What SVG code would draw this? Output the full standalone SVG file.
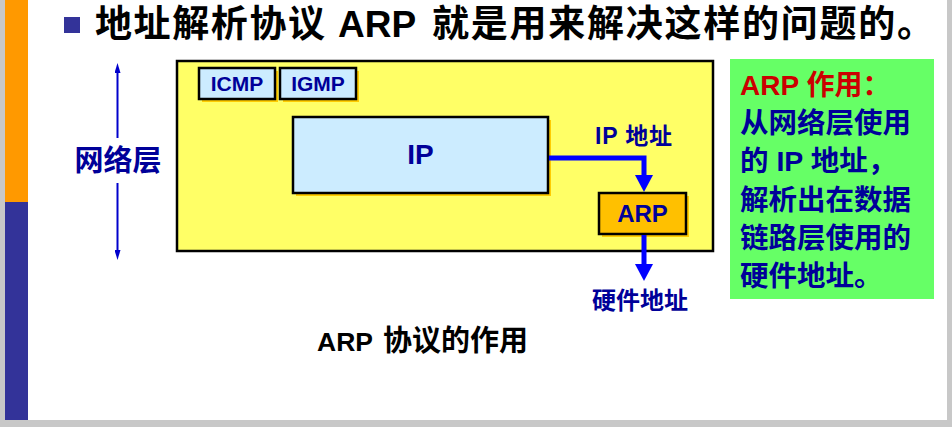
<svg xmlns="http://www.w3.org/2000/svg" width="952" height="427" viewBox="0 0 952 427">
<defs>
<style>
.t{font-family:"Liberation Sans","Noto Sans CJK SC",sans-serif;font-weight:bold}
.navy{fill:#000099}
.box{stroke:#000;stroke-width:2.5}
.sh{fill:#FFCC00}
.conn{stroke:#0000FF;stroke-width:5;fill:none}
.dbl{stroke:#0000CC;stroke-width:2;fill:none}
</style>
<marker id="ah" markerUnits="userSpaceOnUse" markerWidth="17" markerHeight="18" refX="0" refY="9" orient="auto" viewBox="0 0 17 18">
<path d="M0,0 L17,9 L0,18 z" fill="#0000FF"/>
</marker>
<marker id="ahs" markerUnits="userSpaceOnUse" markerWidth="10" markerHeight="6" refX="0" refY="3" orient="auto" viewBox="0 0 10 6">
<path d="M0,0 L10,3 L0,6 z" fill="#0000CC"/>
</marker>
</defs>
<rect x="0" y="0" width="952" height="427" fill="#FFFFFF"/>
<rect x="0" y="0" width="5" height="427" fill="#C8C8C8"/>
<rect x="5" y="0" width="23" height="202" fill="#FF9900"/>
<rect x="5" y="202" width="23" height="218" fill="#333399"/>
<rect x="0" y="420" width="952" height="7" fill="#C8C8C8"/>
<rect x="947" y="0" width="5" height="427" fill="#C8C8C8"/>

<g id="title">
<rect x="64" y="17" width="16" height="16" fill="#333399"/>
<text class="t" font-size="37" y="37" fill="#000"><tspan x="95" textLength="230">地址解析协议</tspan><tspan x="338">ARP</tspan><tspan x="432" textLength="502">就是用来解决这样的问题的。</tspan></text>
</g>

<g id="network-layer-label">
<text class="t navy" font-size="29" x="118" y="171" text-anchor="middle">网络层</text>
</g>

<g id="network-layer-box">
<rect x="177" y="61" width="536" height="190" fill="#FFFF66" class="box"/>
</g>

<g id="icmp">
<rect x="202" y="71" width="76" height="31" class="sh"/>
<rect x="199" y="68" width="76" height="31" fill="#CCECFF" class="box"/>
<text class="t navy" font-size="21" x="237" y="91" text-anchor="middle">ICMP</text>
</g>

<g id="igmp">
<rect x="283" y="71" width="76" height="31" class="sh"/>
<rect x="280" y="68" width="76" height="31" fill="#CCECFF" class="box"/>
<text class="t navy" font-size="21" x="318" y="91" text-anchor="middle">IGMP</text>
</g>

<g id="ip">
<rect x="296" y="120" width="255" height="76" class="sh"/>
<rect x="293" y="117" width="255" height="76" fill="#CCECFF" class="box"/>
<text class="t navy" font-size="28" x="420.5" y="164" text-anchor="middle">IP</text>
</g>

<g id="arp">
<rect x="602" y="196" width="87" height="41" class="sh"/>
<rect x="599" y="193" width="87" height="41" fill="#FFC000" class="box"/>
<text class="t navy" font-size="24" x="642.5" y="221.5" text-anchor="middle">ARP</text>
</g>

<g id="connectors">
<path class="conn" d="M549,158 H644 V175" marker-end="url(#ah)"/>
<path class="conn" d="M644,235 V264" marker-end="url(#ah)"/>
<path class="dbl" d="M117.5,138 V73" marker-end="url(#ahs)"/>
<path class="dbl" d="M117.5,183 V250" marker-end="url(#ahs)"/>
</g>

<g id="labels">
<text class="t navy" font-size="23" x="595" y="144" textLength="77">IP 地址</text>
<text class="t navy" font-size="24" x="592" y="309">硬件地址</text>
<text class="t" y="351" fill="#000"><tspan x="317" font-size="26.5">ARP</tspan><tspan x="383" font-size="29">协议的作用</tspan></text>
</g>

<g id="note">
<rect x="730" y="59" width="204" height="240" fill="#66FF66"/>
<text class="t" font-size="28" x="740" y="95" fill="#CC0000">ARP 作用：</text>
<text class="t navy" font-size="28.5">
<tspan x="740" y="133">从网络层使用</tspan>
<tspan x="740" y="171">的 IP 地址，</tspan>
<tspan x="740" y="210">解析出在数据</tspan>
<tspan x="740" y="248">链路层使用的</tspan>
<tspan x="740" y="286">硬件地址。</tspan>
</text>
</g>
</svg>
